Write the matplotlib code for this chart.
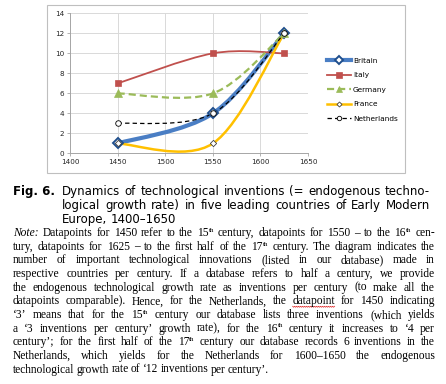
import numpy as np
import matplotlib
matplotlib.use('Agg')
import matplotlib.pyplot as plt
from matplotlib.path import Path
from matplotlib.patches import PathPatch, Rectangle
from matplotlib.lines import Line2D

# ---------------- data ----------------
years = [1450, 1550, 1625]
britain = [1, 4, 12]
italy = [7, 10, 10]
germany = [6, 6, 12]
france = [1, 1, 12]
netherlands = [3, 4, 12]
series_names = ["Britain", "Italy", "Germany", "France", "Netherlands"]
x_ticks = [1400, 1450, 1500, 1550, 1600, 1650]
y_ticks = [0, 2, 4, 6, 8, 10, 12, 14]

caption_bold = "Fig. 6."
caption_lines = [
    "Dynamics of technological inventions (= endogenous techno-",
    "logical growth rate) in five leading countries of Early Modern",
    "Europe, 1400\u20131650",
]
note_lines = [
    "*Note:* Datapoints for 1450 refer to the 15^th century, datapoints for 1550 \u2013 to the 16^th cen-",
    "tury, datapoints for 1625 \u2013 to the first half of the 17^th century. The diagram indicates the",
    "number of important technological innovations (listed in our database) made in",
    "respective countries per century. If a database refers to half a century, we provide",
    "the endogenous technological growth rate as inventions per century (to make all the",
    "datapoints comparable). Hence, for the Netherlands, the ~datapoint~ for 1450 indicating",
    "\u20183\u2019 means that for the 15^th century our database lists three inventions (which yields",
    "a \u20183 inventions per century\u2019 growth rate), for the 16^th century it increases to \u20184 per",
    "century\u2019; for the first half of the 17^th century our database records 6 inventions in the",
    "Netherlands, which yields for the Netherlands for 1600\u20131650 the endogenous",
    "technological growth rate of \u201812 inventions per century\u2019.",
]

W, H = 446, 384
fig = plt.figure(figsize=(W / 100, H / 100), dpi=100)
renderer = fig.canvas.get_renderer()


def fx(x):
    return x / W


def fy(y):
    return 1 - y / H


# ---------------- chart frame ----------------
fig.patches.append(Rectangle((fx(46.5), fy(172.5)), fx(405) - fx(46.5), fy(4.5) - fy(172.5),
                             transform=fig.transFigure, fill=False, ec='#BFBFBF', lw=0.8))

ax = fig.add_axes([fx(70), fy(153.5), fx(308) - fx(70), fy(13.3) - fy(153.5)])
ax.set_xlim(1400, 1650)
ax.set_ylim(0, 14)
ax.set_xticks(x_ticks)
ax.set_yticks(y_ticks)
ax.grid(True, color='#D9D9D9', lw=0.7)
ax.set_axisbelow(True)
for s in ['top', 'right']:
    ax.spines[s].set_visible(False)
for s in ['left', 'bottom']:
    ax.spines[s].set_color('#A6A6A6')
    ax.spines[s].set_linewidth(0.7)
ax.tick_params(axis='both', labelsize=5.2, colors='#A6A6A6', labelcolor='#262626',
               length=2.2, width=0.6, pad=2)
for lab in ax.get_xticklabels() + ax.get_yticklabels():
    lab.set_family('DejaVu Sans')


def smooth_path(xs, ys):
    P = np.column_stack([xs, ys]).astype(float)
    n = len(P)
    verts = [P[0]]
    codes = [Path.MOVETO]
    for i in range(n - 1):
        p_prev = P[i - 1] if i > 0 else P[i]
        p_next2 = P[i + 2] if i + 2 < n else P[i + 1]
        c1 = P[i] + (P[i + 1] - p_prev) / 6.0
        c2 = P[i + 1] - (p_next2 - P[i]) / 6.0
        verts += [c1, c2, P[i + 1]]
        codes += [Path.CURVE4] * 3
    return Path(verts, codes)


styles = [
    dict(data=britain, color='#4A7EC4', lw=3.0, ls='-', marker='D', ms=5.2,
         mfc='white', mec='#1F4E8C', mew=1.4),
    dict(data=italy, color='#C0504D', lw=1.3, ls='-', marker='s', ms=5.0,
         mfc='#C0504D', mec='#C0504D', mew=0.5),
    dict(data=germany, color='#9BBB59', lw=1.6, ls=(0, (3.2, 1.8)), marker='^', ms=5.5,
         mfc='#9BBB59', mec='#9BBB59', mew=0.5),
    dict(data=france, color='#FFC000', lw=1.8, ls='-', marker='D', ms=3.2,
         mfc='white', mec='#404040', mew=0.6),
    dict(data=netherlands, color='black', lw=0.9, ls=(0, (3.5, 2.5)), marker='o', ms=4.0,
         mfc='white', mec='black', mew=0.6),
]

handles = []
for k, (name, st) in enumerate(zip(series_names, styles)):
    path = smooth_path(years, st['data'])
    ax.add_patch(PathPatch(path, fill=False, ec=st['color'], lw=st['lw'], ls=st['ls'],
                           zorder=2 + k * 0.1, capstyle='butt'))
    ax.plot(years, st['data'], ls='none', marker=st['marker'], ms=st['ms'], mfc=st['mfc'],
            mec=st['mec'], mew=st['mew'], zorder=3 + k * 0.1, clip_on=False)
    handles.append(Line2D([], [], color=st['color'], lw=st['lw'], ls=st['ls'],
                          marker=st['marker'], ms=st['ms'] * 0.8, mfc=st['mfc'],
                          mec=st['mec'], mew=st['mew']))

fig.legend(handles, series_names, loc='upper left', bbox_to_anchor=(fx(327), fy(57.5)),
           frameon=False, fontsize=5.3, handlelength=3.2, handletextpad=0.3,
           labelspacing=1.14, borderaxespad=0, borderpad=0)


# ---------------- text helpers ----------------
def text_width(s, **kw):
    t = fig.text(0, 0, s, **kw)
    w = t.get_window_extent(renderer).width
    t.remove()
    return w


def parse_word(word):
    runs = []
    italic = False
    wavy = False
    if word.startswith('*') and word.count('*') >= 2:
        italic = True
        word = word.replace('*', '')
    if word.startswith('~') and word.count('~') >= 2:
        wavy = True
        word = word.replace('~', '')
    if '^' in word:
        base, rest = word.split('^', 1)
        sup = ''
        i = 0
        while i < len(rest) and rest[i].isalpha():
            sup += rest[i]
            i += 1
        runs.append((base, 'n'))
        runs.append((sup, 'sup'))
        if rest[i:]:
            runs.append((rest[i:], 'n'))
    else:
        runs.append((word, 'i' if italic else 'n'))
    return runs, wavy


def draw_line(line, baseline, x0, x1, justify, family, size, space_px=None, min_gap=1.8):
    words = [parse_word(w) for w in line.split(' ')]
    n = len(words)
    while True:
        kws = {
            'n': dict(family=family, fontsize=size),
            'i': dict(family=family, fontsize=size, style='italic'),
            'sup': dict(family=family, fontsize=size * 0.62),
        }
        wlist = []
        for runs, wavy in words:
            ws = [text_width(t, **kws[k]) for t, k in runs]
            wlist.append((runs, ws, wavy))
        total = sum(sum(ws) for _, ws, _ in wlist)
        if not justify or n < 2 or (x1 - x0 - total) / (n - 1) >= min_gap:
            break
        size *= 0.99
    if space_px is None:
        space_px = text_width('a a', **kws['n']) - text_width('aa', **kws['n'])
    gap = (x1 - x0 - total) / (n - 1) if (justify and n > 1) else space_px
    x = x0
    for runs, ws, wavy in wlist:
        xs = x
        for (t, k), w in zip(runs, ws):
            dy = size * 100 / 72 * 0.36 if k == 'sup' else 0
            fig.text(fx(x), fy(baseline - dy), t, ha='left', va='baseline', color='black', **kws[k])
            x += w
        if wavy:
            zx = np.arange(xs, x + 0.01, 1.0)
            zy = baseline + 2.0 + np.where(np.arange(len(zx)) % 2 == 0, 0, 1.0)
            fig.lines.append(Line2D(fx(zx), fy(zy), transform=fig.transFigure,
                                    color='#E02020', lw=0.5))
        x += gap


# ---------------- caption ----------------
cap_size = 8.5
cap_base = [195.0, 209.0, 223.0]
fig.text(fx(13), fy(cap_base[0]), caption_bold, ha='left', va='baseline', family='DejaVu Sans',
         fontsize=cap_size, weight='bold')
for i, line in enumerate(caption_lines):
    draw_line(line, cap_base[i], 62, 430, i < len(caption_lines) - 1, 'DejaVu Sans', cap_size,
              min_gap=3.5)

# ---------------- note ----------------
note_size = 8.3
for i, line in enumerate(note_lines):
    base = 236.0 + i * 13.65
    last = i == len(note_lines) - 1
    draw_line(line, base, 13, 435, not last, 'Liberation Serif', note_size,
              space_px=2.3 if last else None)

fig.savefig('out.png', dpi=100)
